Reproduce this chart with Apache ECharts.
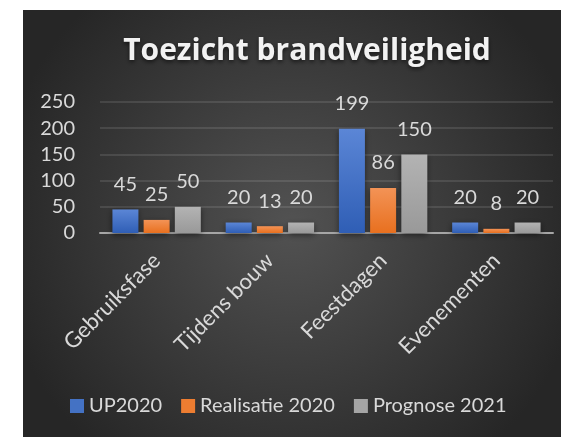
<!DOCTYPE html>
<html>
<head>
<meta charset="utf-8">
<script src="https://cdn.jsdelivr.net/npm/echarts@6/dist/echarts.min.js"></script>
<style>
html, body { margin: 0; padding: 0; background: #fff; }
#main { width: 561px; height: 437px; }
</style>
</head>
<body>
<div id="main"></div>
<script>
var categories = ['Gebruiksfase', 'Tijdens bouw', 'Feestdagen', 'Evenementen'];
var seriesNames = ['UP2020', 'Realisatie 2020', 'Prognose 2021'];
var up2020 = [45, 20, 199, 20];
var realisatie2020 = [25, 13, 86, 8];
var prognose2021 = [50, 20, 150, 20];
var yTicks = [0, 50, 100, 150, 200, 250];

var textColor = '#d9d9d9';
var fontName = 'Lato';

function grad(top, bottom) {
	return new echarts.graphic.LinearGradient(0, 0, 0, 1, [
		{ offset: 0, color: top },
		{ offset: 1, color: bottom }
	]);
}

function barSeries(name, data, top, bottom) {
	return {
		name : name,
		type : 'bar',
		data : data,
		barWidth : 26,
		barGap : '20%',
		itemStyle : {
			color : grad(top, bottom),
			shadowColor : 'rgba(0, 0, 0, 0.5)',
			shadowBlur : 6,
			shadowOffsetY : 2
		},
		label : {
			show : true,
			position : 'top',
			distance : 15,
			color : textColor,
			fontFamily : fontName,
			fontSize : 20
		}
	};
}

var myChart = echarts.init(document.getElementById('main'));
var option = {
	animation : false,
	backgroundColor : '#fff',
	graphic : [ {
		type : 'rect',
		z : -10,
		silent : true,
		shape : { x : 23, y : 10, width : 538, height : 427 },
		style : {
			fill : new echarts.graphic.RadialGradient(0.5, 0.5, 0.7, [
				{ offset: 0, color: '#525252' },
				{ offset: 1, color: '#262626' }
			])
		}
	} ],
	title : {
		text : 'Toezicht brandveiligheid',
		left : 302,
		textAlign : 'center',
		top : 31,
		textStyle : {
			color : '#f2f2f2',
			fontFamily : 'Open Sans',
			fontWeight : 'bold',
			fontSize : 30,
			textShadowColor : 'rgba(0, 0, 0, 0.6)',
			textShadowBlur : 4,
			textShadowOffsetY : 2
		}
	},
	legend : {
		bottom : 16,
		left : 65,
		itemWidth : 14,
		itemHeight : 14,
		itemGap : 19,
		icon : 'rect',
		textStyle : {
			color : textColor,
			fontFamily : fontName,
			fontSize : 20
		},
		data : [
			{ name : seriesNames[0], itemStyle : { color : '#4472c4' } },
			{ name : seriesNames[1], itemStyle : { color : '#ed7d31' } },
			{ name : seriesNames[2], itemStyle : { color : '#a5a5a5' } }
		]
	},
	grid : {
		left : 100,
		right : 8,
		top : 102,
		bottom : 204,
		containLabel : false
	},
	xAxis : {
		type : 'category',
		data : categories,
		axisTick : { show : false },
		axisLine : {
			lineStyle : { color : '#a6a6a6', width : 2 }
		},
		axisLabel : {
			rotate : 45,
			margin : 24,
			interval : 0,
			color : textColor,
			fontFamily : fontName,
			fontSize : 22
		}
	},
	yAxis : {
		type : 'value',
		min : yTicks[0],
		max : yTicks[yTicks.length - 1],
		interval : 50,
		axisLine : { show : false },
		axisTick : { show : false },
		axisLabel : {
			margin : 25,
			color : textColor,
			fontFamily : fontName,
			fontSize : 20
		},
		splitLine : {
			lineStyle : { color : 'rgba(255, 255, 255, 0.14)', width : 1.5 }
		}
	},
	series : [
		barSeries(seriesNames[0], up2020, '#5b86d6', '#2f5eb5'),
		barSeries(seriesNames[1], realisatie2020, '#f39356', '#e8701f'),
		barSeries(seriesNames[2], prognose2021, '#b3b3b3', '#999999')
	]
};
myChart.setOption(option);
</script>
</body>
</html>
